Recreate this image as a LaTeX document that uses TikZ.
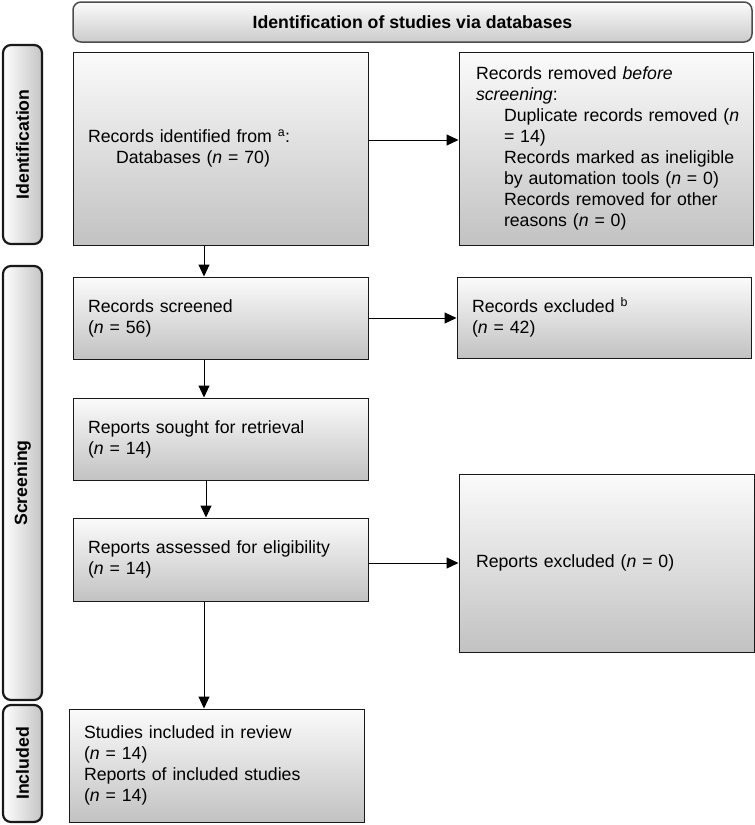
\documentclass[tikz,border=0pt]{standalone}
\usepackage{fontspec}
\setmainfont{Liberation Sans}
\usetikzlibrary{arrows.meta,calc}
\definecolor{boxtop}{HTML}{FBFBFB}
\definecolor{boxbot}{HTML}{C2C2C2}
\definecolor{sidegray}{HTML}{C4C4C4}
\definecolor{hdrbot}{HTML}{CBCBCB}
\begin{document}
\begin{tikzpicture}[x=1pt,y=-1pt,
  box/.style={draw=black!90, line width=1pt, top color=boxtop, bottom color=boxbot,
    align=left, inner xsep=15pt, inner ysep=0pt,
    font=\fontsize{17.7}{20.9}\selectfont},
  sidebox/.style={draw=black!90, line width=2.2pt, rounded corners=8pt, rotate=90,
    left color=white, right color=sidegray, inner sep=0pt,
    font=\bfseries\fontsize{17.7}{20}\selectfont},
  hdrbox/.style={draw=black!70, line width=1.5pt, rounded corners=8pt,
    top color=boxtop, bottom color=hdrbot, inner sep=0pt,
    font=\bfseries\fontsize{17.7}{20}\selectfont},
  arr/.style={-{Triangle[length=12pt,width=11pt]}, line width=1pt}
]
\useasboundingbox (0,0) rectangle (755,825);

% header
\node[hdrbox, minimum width=679pt, minimum height=40pt] (hdr) at (412.5,22)
  {Identification of studies via databases};

% side labels
\node[sidebox, minimum width=199pt, minimum height=39pt] (sid) at (22.5,144.5) {Identification};
\node[sidebox, minimum width=434pt, minimum height=39pt] (sscr) at (22.5,483) {Screening};
\node[sidebox, minimum width=117pt, minimum height=39pt] (sinc) at (22.5,763.5) {Included};

% left column
\node[box, minimum width=295pt, minimum height=193pt, text width=265pt] (b1) at (220.5,148.5)
  {Records identified from \textsuperscript{a}:\\\hspace*{28pt}Databases (\textit{n} = 70)};
\node[box, minimum width=295pt, minimum height=82pt, text width=265pt] (scr) at (220.5,318)
  {Records screened\\(\textit{n} = 56)};
\node[box, minimum width=295pt, minimum height=82pt, text width=265pt] (sought) at (220.5,439)
  {Reports sought for retrieval\\(\textit{n} = 14)};
\node[box, minimum width=295pt, minimum height=83pt, text width=265pt] (assess) at (220.5,559.5)
  {Reports assessed for eligibility\\(\textit{n} = 14)};
\node[box, minimum width=295pt, minimum height=113pt, text width=265pt] (incl) at (216.5,765.5)
  {Studies included in review\\(\textit{n} = 14)\\Reports of included studies\\(\textit{n} = 14)};

% right column
\node[box, inner xsep=17pt, minimum width=294pt, minimum height=193pt, text width=260pt] (rem) at (606,148.5)
  {\mbox{Records removed \textit{before}}\\\textit{screening}:\\
   \mbox{\hspace*{28pt}Duplicate records removed (\textit{n}}\\
   \mbox{\hspace*{28pt}= 14)}\\
   \mbox{\hspace*{28pt}Records marked as ineligible}\\
   \mbox{\hspace*{28pt}by automation tools (\textit{n} = 0)}\\
   \mbox{\hspace*{28pt}Records removed for other}\\
   \mbox{\hspace*{28pt}reasons (\textit{n} = 0)}};
\node[box, minimum width=294pt, minimum height=81pt, text width=264pt] (exc) at (604,317.5)
  {Records excluded \textsuperscript{b}\\(\textit{n} = 42)};
\node[box, inner xsep=17pt, minimum width=295pt, minimum height=178pt, text width=261pt] (rexc) at (606.5,563)
  {Reports excluded (\textit{n} = 0)};

% connectors
\coordinate (ca) at (204,0);
\coordinate (cb) at (206,0);
\draw[arr] (b1.south -| ca) -- (scr.north -| ca);
\draw[arr] (scr.south -| ca) -- (sought.north -| ca);
\draw[arr] (sought.south -| cb) -- (assess.north -| cb);
\draw[arr] (assess.south -| ca) -- (incl.north -| ca);
\draw[arr] ([yshift=8.5pt]b1.east) -- ([yshift=8.5pt]b1.east -| rem.west);
\draw[arr] (scr.east) -- (scr.east -| exc.west);
\draw[arr] ([yshift=-3.5pt]assess.east) -- ([yshift=-3.5pt]assess.east -| rexc.west);
\end{tikzpicture}
\end{document}
